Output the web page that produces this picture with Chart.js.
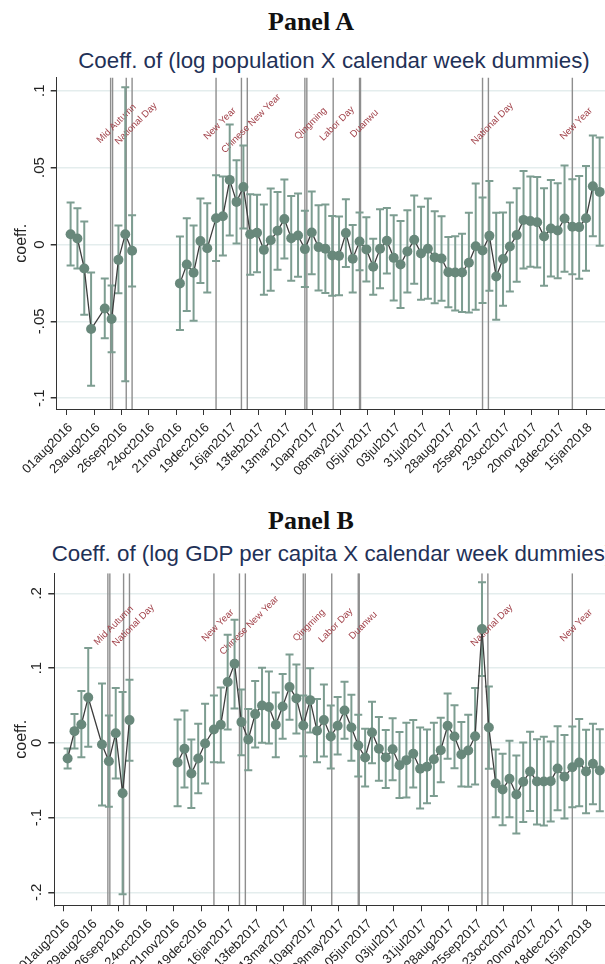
<!DOCTYPE html>
<html>
<head>
<meta charset="utf-8">
<script src="https://cdn.jsdelivr.net/npm/chart.js@4.4.0/dist/chart.umd.min.js"></script>
<style>
  html, body { margin: 0; padding: 0; background: #fff; }
  body { width: 605px; height: 964px; overflow: hidden; position: relative; }
  .panel { position: absolute; left: 0; width: 622px; height: 482px; }
  .head { position: absolute; left: 0; width: 622px; text-align: center; font: bold 26px "Liberation Serif", serif; line-height: 1; color: #111; white-space: nowrap; }
  .sub { position: absolute; width: 800px; text-align: center; font: 22.3px "Liberation Sans", Arial, sans-serif; line-height: 1; color: #1f3157; white-space: nowrap; }
</style>
</head>
<body>
<div class="head" style="top:9px">Panel A</div>
<div class="sub" style="top:50px; left:-66px">Coeff. of (log population X calendar week dummies)</div>
<div class="panel" style="top:0px"><canvas id="chartA" width="622" height="482"></canvas></div>
<div class="head" style="top:508px">Panel B</div>
<div class="sub" style="top:543px; left:-68px">Coeff. of (log GDP per capita X calendar week dummies)</div>
<div class="panel" style="top:482px"><canvas id="chartB" width="622" height="482"></canvas></div>
<script>
// Stata weekly dates of the estimates
const weeks = [
  "2016w32", "2016w33", "2016w34", "2016w35", "2016w37", "2016w38", "2016w39", "2016w40", "2016w41",
  "2016w48", "2016w49", "2016w50", "2016w51", "2016w52",
  "2017w1", "2017w2", "2017w3", "2017w4", "2017w5", "2017w6", "2017w7", "2017w8", "2017w9", "2017w10",
  "2017w11", "2017w12", "2017w13", "2017w14", "2017w15", "2017w16", "2017w17", "2017w18", "2017w19", "2017w20",
  "2017w21", "2017w22", "2017w23", "2017w24", "2017w25", "2017w26", "2017w27", "2017w28", "2017w29", "2017w30",
  "2017w31", "2017w32", "2017w33", "2017w34", "2017w35", "2017w36", "2017w37", "2017w38", "2017w39", "2017w40",
  "2017w41", "2017w42", "2017w43", "2017w44", "2017w45", "2017w46", "2017w47", "2017w48", "2017w49", "2017w50",
  "2017w51", "2017w52",
  "2018w1", "2018w2", "2018w3", "2018w4", "2018w5"
];

// Panel A: log population x week
const coefA = [
  0.0067, 0.0039, -0.0156, -0.0550, -0.0416, -0.0485, -0.0100, 0.0067, -0.0041,
  -0.0253, -0.0130, -0.0184, 0.0022, -0.0024,
  0.0171, 0.0184, 0.0420, 0.0277, 0.0374, 0.0067, 0.0076, -0.0035, 0.0028, 0.0089,
  0.0165, 0.0041, 0.0058, -0.0030, 0.0078, -0.0017, -0.0028, -0.0071, -0.0074, 0.0074,
  -0.0093, 0.0019, -0.0032, -0.0145, -0.0028, 0.0024, -0.0087, -0.0130, -0.0045, 0.0030,
  -0.0058, -0.0028, -0.0084, -0.0091, -0.0180, -0.0182, -0.0182, -0.0119, -0.0011, -0.0039,
  0.0056, -0.0208, -0.0095, -0.0013, 0.0061, 0.0160, 0.0152, 0.0145, 0.0052, 0.0104,
  0.0091, 0.0169,
  0.0115, 0.0113, 0.0171, 0.0379, 0.0342
];
const hiA = [
  0.0273, 0.0236, 0.0149, -0.0182, -0.0221, -0.0266, 0.0123, 0.1022, 0.0190,
  0.0052, 0.0171, 0.0123, 0.0299, 0.0268,
  0.0450, 0.0442, 0.0781, 0.0548, 0.0643, 0.0327, 0.0323, 0.0260, 0.0364, 0.0342,
  0.0422, 0.0316, 0.0331, 0.0219, 0.0344, 0.0255, 0.0260, 0.0186, 0.0182, 0.0294,
  0.0126, 0.0208, 0.0177, 0.0037, 0.0229, 0.0238, 0.0190, 0.0152, 0.0223, 0.0318,
  0.0245, 0.0299, 0.0216, 0.0184, 0.0048, 0.0054, 0.0069, 0.0206, 0.0396, 0.0305,
  0.0413, 0.0206, 0.0208, 0.0273, 0.0366, 0.0478, 0.0442, 0.0439, 0.0366, 0.0420,
  0.0398, 0.0513,
  0.0424, 0.0446, 0.0511, 0.0708, 0.0695
];
const loA = [
  -0.0136, -0.0156, -0.0457, -0.0918, -0.0610, -0.0701, -0.0318, -0.0890, -0.0273,
  -0.0556, -0.0433, -0.0496, -0.0251, -0.0312,
  -0.0108, -0.0071, 0.0058, 0.0006, 0.0104, -0.0197, -0.0180, -0.0327, -0.0301, -0.0165,
  -0.0091, -0.0236, -0.0210, -0.0277, -0.0193, -0.0299, -0.0316, -0.0333, -0.0331, -0.0147,
  -0.0312, -0.0167, -0.0240, -0.0327, -0.0284, -0.0188, -0.0364, -0.0413, -0.0312, -0.0255,
  -0.0359, -0.0353, -0.0383, -0.0366, -0.0409, -0.0429, -0.0439, -0.0442, -0.0424, -0.0381,
  -0.0301, -0.0489, -0.0398, -0.0305, -0.0242, -0.0156, -0.0145, -0.0149, -0.0268, -0.0208,
  -0.0219, -0.0177,
  -0.0193, -0.0223, -0.0171, 0.0054, -0.0009
];

// Panel B: log GDP per capita x week
const coefB = [
  -0.0210, 0.0156, 0.0246, 0.0607, -0.0022, -0.0246, 0.0129, -0.0674, 0.0304,
  -0.0263, -0.0080, -0.0411, -0.0210, -0.0009,
  0.0179, 0.0241, 0.0813, 0.1058, 0.0277, 0.0045, 0.0384, 0.0500, 0.0478, 0.0241,
  0.0487, 0.0746, 0.0594, 0.0232, 0.0571, 0.0161, 0.0304, 0.0085, 0.0228, 0.0433,
  0.0205, -0.0036, -0.0196, 0.0138, -0.0080, -0.0196, -0.0085, -0.0299, -0.0232, -0.0147,
  -0.0348, -0.0321, -0.0219, -0.0098, 0.0228, 0.0085, -0.0156, -0.0103, 0.0089, 0.1522,
  0.0205, -0.0545, -0.0625, -0.0482, -0.0692, -0.0522, -0.0384, -0.0518, -0.0518, -0.0513,
  -0.0344, -0.0455,
  -0.0326, -0.0263, -0.0384, -0.0281, -0.0371
];
const hiB = [
  -0.0076, 0.0384, 0.0692, 0.1268, 0.0795, 0.0366, 0.0732, 0.0679, 0.0844,
  0.0313, 0.0433, 0.0045, 0.0254, 0.0522,
  0.0634, 0.0741, 0.1446, 0.1647, 0.0714, 0.0451, 0.0826, 0.1004, 0.0955, 0.0674,
  0.0920, 0.1183, 0.1049, 0.0634, 0.0996, 0.0585, 0.0781, 0.0500, 0.0612, 0.0817,
  0.0643, 0.0375, 0.0188, 0.0549, 0.0344, 0.0170, 0.0330, 0.0143, 0.0268, 0.0304,
  0.0205, 0.0179, 0.0268, 0.0335, 0.0661, 0.0504, 0.0277, 0.0375, 0.0732, 0.2147,
  0.0754, -0.0089, -0.0147, 0.0027, -0.0170, 0.0004, 0.0147, 0.0049, 0.0080, 0.0018,
  0.0223, 0.0103,
  0.0219, 0.0317, 0.0174, 0.0254, 0.0183
];
const loB = [
  -0.0344, -0.0076, -0.0192, -0.0054, -0.0839, -0.0857, -0.0478, -0.2027, -0.0241,
  -0.0848, -0.0598, -0.0871, -0.0674, -0.0545,
  -0.0259, -0.0263, 0.0179, 0.0460, -0.0165, -0.0366, -0.0063, 0.0000, -0.0009, -0.0192,
  0.0054, 0.0308, 0.0125, -0.0179, 0.0138, -0.0259, -0.0183, -0.0344, -0.0156, 0.0054,
  -0.0241, -0.0451, -0.0585, -0.0272, -0.0509, -0.0603, -0.0500, -0.0737, -0.0732, -0.0598,
  -0.0879, -0.0808, -0.0710, -0.0527, -0.0214, -0.0339, -0.0585, -0.0589, -0.0558, 0.0893,
  -0.0348, -0.0996, -0.1103, -0.0996, -0.1214, -0.1058, -0.0911, -0.1094, -0.1107, -0.1054,
  -0.0902, -0.1013,
  -0.0862, -0.0848, -0.0942, -0.0821, -0.0915
];

const xTickLabels = [
  "01aug2016", "29aug2016", "26sep2016", "24oct2016", "21nov2016", "19dec2016", "16jan2017",
  "13feb2017", "13mar2017", "10apr2017", "08may2017", "05jun2017", "03jul2017", "31jul2017",
  "28aug2017", "25sep2017", "23oct2017", "20nov2017", "18dec2017", "15jan2018"
];
const yTicksA = [-0.1, -0.05, 0, 0.05, 0.1];
const yTicksB = [-0.2, -0.1, 0, 0.1, 0.2];

// holidays: first and last marked day (null = single line)
const holidayNames = ["Mid Autumn", "National Day", "New Year", "Chinese New Year", "Qingming",
                      "Labor Day", "Duanwu", "National Day", "New Year"];
const holidayStart = ["2016-09-15", "2016-10-01", "2017-01-01", "2017-01-27", "2017-04-02",
                      "2017-05-01", "2017-05-28", "2017-10-01", "2018-01-01"];
const holidayEnd   = ["2016-09-17", "2016-10-07", null, "2017-02-02", "2017-04-04",
                      null, "2017-05-29", "2017-10-07", null];

const DAY = 86400000;
const BASE = Date.UTC(2016, 7, 1);
const MONTHS = ["jan","feb","mar","apr","may","jun","jul","aug","sep","oct","nov","dec"];

function dayOf(s) {
    const p = s.split("-").map(Number);
    return (Date.UTC(p[0], p[1] - 1, p[2]) - BASE) / DAY;
}
// stata weekly date -> first day of that week (weeks restart every 1 jan)
function weekDay(w) {
    const p = w.split("w").map(Number);
    return (Date.UTC(p[0], 0, 1) - BASE) / DAY + 7 * (p[1] - 1);
}
function tickDay(l) {
    return (Date.UTC(+l.slice(5), MONTHS.indexOf(l.slice(2, 5)), +l.slice(0, 2)) - BASE) / DAY;
}
function yLabel(v) {
    if (v === 0) return "0";
    return String(v).replace("0.", ".");
}

const SANS = '"Liberation Sans", Arial, sans-serif';

const extras = {
    id: "extras",
    beforeDatasetsDraw(chart) {
        const o = chart.options.plugins.extras;
        const ctx = chart.ctx;
        const a = chart.chartArea;
        const x = chart.scales.x, y = chart.scales.y;
        ctx.save();
        ctx.beginPath();
        ctx.rect(a.left, a.top, a.right - a.left, a.bottom - a.top);
        ctx.clip();

        // holiday lines
        ctx.strokeStyle = "#8e8e8e";
        ctx.lineWidth = 1.4;
        for (let i = 0; i < holidayStart.length; i++) {
            [holidayStart[i], holidayEnd[i]].forEach(d => {
                if (!d) return;
                const px = x.getPixelForValue(dayOf(d));
                ctx.beginPath();
                ctx.moveTo(px, a.top);
                ctx.lineTo(px, a.bottom);
                ctx.stroke();
            });
        }

        // holiday labels
        ctx.fillStyle = "#a2434b";
        ctx.font = "9.6px " + SANS;
        ctx.textAlign = "center";
        ctx.textBaseline = "middle";
        for (let i = 0; i < holidayNames.length; i++) {
            const last = holidayEnd[i] || holidayStart[i];
            const px = x.getPixelForValue(dayOf(last) + 4);
            const py = y.getPixelForValue(o.labelLevel);
            ctx.save();
            ctx.translate(px, py);
            ctx.rotate(-Math.PI / 4);
            ctx.fillText(holidayNames[i], 0, 0);
            ctx.restore();
        }

        // confidence intervals (rcap)
        ctx.strokeStyle = "#7d9d91";
        ctx.lineWidth = 2;
        for (let i = 0; i < weeks.length; i++) {
            const px = x.getPixelForValue(weekDay(weeks[i]));
            const p1 = y.getPixelForValue(o.lo[i]);
            const p2 = y.getPixelForValue(o.hi[i]);
            ctx.beginPath();
            ctx.moveTo(px, p1); ctx.lineTo(px, p2);
            ctx.moveTo(px - 4, p1); ctx.lineTo(px + 4, p1);
            ctx.moveTo(px - 4, p2); ctx.lineTo(px + 4, p2);
            ctx.stroke();
        }
        ctx.restore();
    }
};

function makePanel(id, coef, hi, lo, yTicks, cfg) {
    return new Chart(document.getElementById(id), {
        type: "line",
        data: {
            datasets: [{
                data: weeks.map((w, i) => ({x: weekDay(w), y: coef[i]})),
                borderColor: "#3d3d3d",
                borderWidth: 1.3,
                pointRadius: 5,
                pointBorderWidth: 0,
                pointBackgroundColor: "#68887b",
                tension: 0,
                spanGaps: 30
            }]
        },
        options: {
            responsive: false,
            animation: false,
            devicePixelRatio: 1,
            layout: {padding: {top: cfg.top, right: 11, left: 0, bottom: 0}},
            plugins: {
                legend: {display: false},
                tooltip: {enabled: false},
                extras: {lo: lo, hi: hi, labelLevel: cfg.labelLevel}
            },
            scales: {
                x: {
                    type: "linear",
                    min: cfg.xmin,
                    max: cfg.xmax,
                    afterBuildTicks: s => { s.ticks = xTickLabels.map(l => ({value: tickDay(l)})); },
                    afterFit: s => { s.height = cfg.xh; },
                    ticks: {
                        callback: (v, i) => xTickLabels[i],
                        autoSkip: false,
                        minRotation: 45,
                        maxRotation: 45,
                        padding: 5,
                        labelOffset: 4,
                        color: "#222",
                        font: {family: SANS, size: 13}
                    },
                    grid: {drawOnChartArea: false, tickLength: 6, tickColor: "#333", lineWidth: 1},
                    border: {color: "#333", width: 1}
                },
                y: {
                    min: cfg.ymin,
                    max: cfg.ymax,
                    afterBuildTicks: s => { s.ticks = yTicks.map(v => ({value: v})); },
                    afterFit: s => { s.width = cfg.yw; },
                    ticks: {
                        callback: v => yLabel(v),
                        minRotation: 90,
                        maxRotation: 90,
                        crossAlign: "center",
                        padding: cfg.ypad,
                        color: "#222",
                        font: {family: SANS, size: 15}
                    },
                    grid: {color: "#e4eded", lineWidth: 1.5, tickLength: 6, tickColor: "#333"},
                    border: {color: "#333", width: 1},
                    title: {
                        display: true,
                        text: "coeff.",
                        color: "#222",
                        font: {family: SANS, size: 16},
                        padding: {top: 12, bottom: 0}
                    }
                }
            }
        },
        plugins: [extras]
    });
}

makePanel("chartA", coefA, hiA, loA, yTicksA, {
    top: 77.5, xh: 73, yw: 56.7, ypad: -1.7,
    xmin: -10.24, xmax: 557.6, ymin: -0.107, ymax: 0.1086, labelLevel: 0.0786
});
makePanel("chartB", coefB, hiB, loB, yTicksB, {
    top: 91.3, xh: 58.7, yw: 54.3, ypad: 3,
    xmin: -9.57, xmax: 557.4, ymin: -0.2174, ymax: 0.2268, labelLevel: 0.157
});
</script>
</body>
</html>
